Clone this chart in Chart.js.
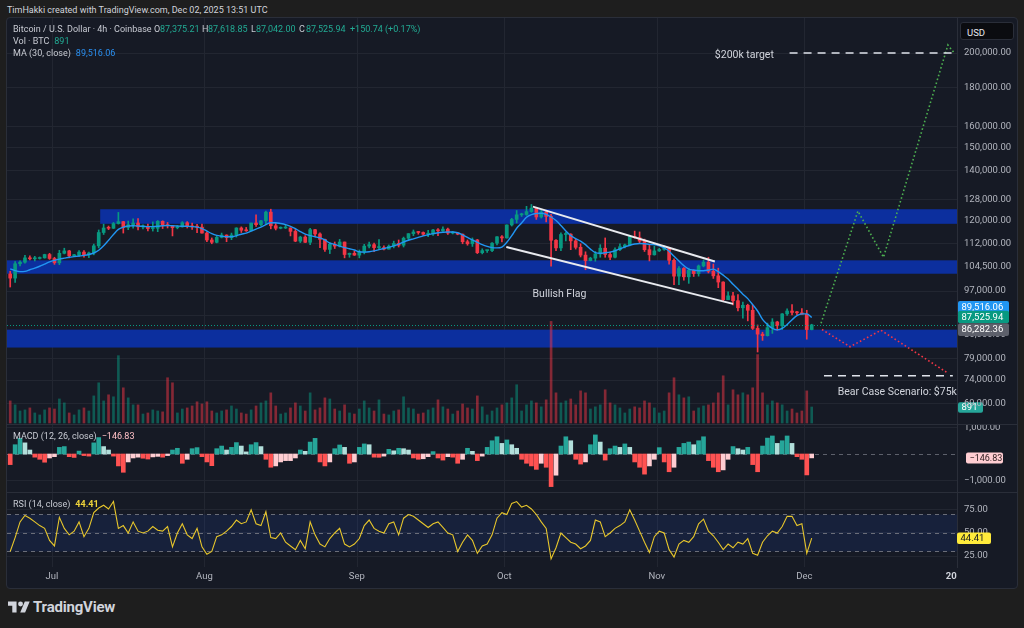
<!DOCTYPE html>
<html><head><meta charset="utf-8">
<script src="https://cdn.jsdelivr.net/npm/chart.js@4.4.1/dist/chart.umd.min.js"></script>
<style>
*{box-sizing:border-box}
html,body{margin:0;padding:0;width:1024px;height:628px;overflow:hidden;background:#1e1e1e;font-family:Roboto,"Noto Sans",sans-serif;}
#panel{position:absolute;left:6px;top:17px;width:1012px;height:572px;background:#161a25;border:1px solid #2a2e39;border-radius:4px;}
canvas{position:absolute;left:7px;}
#cPrice{top:18px}#cMacd{top:425px}#cRsi{top:493px}
.sep{position:absolute;left:7px;width:1010px;height:1px;background:#2a2e39}
.t{position:absolute;white-space:nowrap;line-height:1;color:#c8cbd3;font-size:9px}
.t span{display:inline-block}
.g{color:#22ab94}.b{color:#2a8ff0}
.m{margin-left:5px}
#usd{position:absolute;left:960px;top:22px;width:54px;height:18px;background:#0b0c10;border:1px solid #2a2e39;border-radius:3px;color:#e6e8ee;font-size:9.5px;padding:4px 0 0 6px}
#logoTxt{position:absolute;left:33px;top:598px;font-size:15px;font-weight:700;color:#d1d4dc;letter-spacing:-0.2px}
</style></head>
<body>
<div id="panel"></div>
<canvas id="cPrice" width="1010" height="406"></canvas>
<div class="sep" style="top:424px"></div>
<canvas id="cMacd" width="1010" height="67"></canvas>
<div class="sep" style="top:492px"></div>
<canvas id="cRsi" width="1010" height="95"></canvas>

<div class="t" style="left:7px;top:6px;color:#d1d4dc">TimHakki created with TradingView.com, Dec 02, 2025 13:51 UTC</div>
<div class="t" style="left:13px;top:25px"><span style="width:141px">Bitcoin / U.S. Dollar · 4h · Coinbase</span><span style="width:6px">O</span><span class="g" style="width:42px">87,375.21</span><span style="width:6px">H</span><span class="g" style="width:43px">87,618.85</span><span style="width:5px">L</span><span class="g" style="width:43px">87,042.00</span><span style="width:7px">C</span><span class="g" style="width:44px">87,525.94</span><span class="g">+150.74 (+0.17%)</span></div>
<div class="t" style="left:13px;top:37px">Vol · BTC<span class="g m">891</span></div>
<div class="t" style="left:13px;top:49px">MA (30, close)<span class="b m">89,516.06</span></div>
<div class="t" style="left:13px;top:432px">MACD (12, 26, close)<span class="m" style="color:#ffc1c7">−146.83</span></div>
<div class="t" style="left:13px;top:500px">RSI (14, close)<span class="m" style="color:#f0d43a;font-weight:700">44.41</span></div>
<div id="usd">USD</div>
<svg style="position:absolute;left:8px;top:601px" width="22" height="12" viewBox="0 0 36 18"><path fill="#d1d4dc" d="M14 18H7V7H0V0h14v18zM28 18h-8L27.5 0h8L28 18z"/><circle cx="20.5" cy="4" r="4" fill="#d1d4dc"/></svg>
<div id="logoTxt">TradingView</div>

<script>
// ================= DATA =================
// Daily candles, first candle = Jun 22 2025 (day -9 relative to Jul 1 2025 00:00 UTC)
const FIRST_DAY = -9;
const opens = [102200,100900,105400,105900,107300,107000,107100,107300,108400,107100,
105700,108800,109600,108000,108200,109200,108300,108900,111300,115900,
117500,117400,119100,119800,117700,118700,119300,117900,117900,117300,
117400,119900,118700,118300,117600,117900,119400,118000,117900,117800,
115700,113300,112500,114200,115000,114100,115000,117500,116700,116500,
119300,118700,120100,123300,118300,117400,117500,117500,116300,112900,
114300,112500,116900,115400,113500,110100,111800,111200,112600,108400,
108800,108200,109200,111200,111700,110700,110700,110200,111200,112100,
111500,113900,115500,116100,115900,115300,115400,116800,116500,117100,
115700,115700,115300,112700,112000,113300,109000,109700,109700,112200,
114400,114000,118600,120600,122300,122400,123500,124800,121500,123300,
121700,113200,110600,115200,115300,113000,110800,108200,106400,107200,
108600,110500,108400,107500,110000,111000,111600,114500,114100,112900,
110000,108300,109600,110100,110600,106500,101500,103900,101300,103300,
102300,104700,105900,103000,101600,99700,94500,95600,94200,92200,
92900,91500,86600,85100,84700,86800,88300,87300,90500,91300,
90900,90800,90400,86282];
const highs = [103000,106100,106300,108100,108000,107800,107600,108500,108800,107500,
109800,110500,109800,108500,109700,109700,109200,111900,116800,118900,
118200,119500,123200,119900,120000,120800,120900,118600,118900,119700,
120200,120100,119500,118400,118300,119800,119800,119300,118800,118900,
116100,114000,114700,115700,115100,115700,117600,117900,117700,119300,
122300,120300,123700,124400,119200,117900,118600,117600,117000,114600,
114800,117400,117000,115800,113600,112400,112600,113500,112600,108900,
109500,109900,111800,112600,112200,113400,111300,111600,112900,113300,
114300,115500,116800,116300,116100,116700,117000,117300,117900,117500,
116300,115900,115400,113300,114000,113500,110300,109800,112400,114500,
114800,118600,121000,123900,122900,125500,126200,125000,124200,123800,
122500,113400,115800,116000,115500,113600,112000,109300,107500,109400,
111700,114000,109200,110600,112000,111900,114600,116400,116100,113600,
111600,111200,110500,111300,110800,107000,104500,104200,104000,103400,
105000,106600,107500,105300,104000,99800,96800,96600,96000,93800,
93200,93000,87500,85600,88000,89200,88500,90600,91900,93100,
91200,92000,91500,87700];
const lows = [98200,99600,104700,105600,106600,106300,106900,107200,106800,105200,
105100,108600,107300,107800,107800,107500,107400,108300,110600,115200,
116900,117300,118900,115700,116900,117400,116800,117200,116500,116400,
116200,117300,117500,114700,117200,117800,117500,117000,115800,115700,
112700,112000,112300,114000,112700,113400,114300,115900,116300,116500,
118100,118200,118900,117200,116800,117200,117300,114700,112700,112400,
112400,111700,114600,110700,109400,108700,110400,110900,107300,107500,
108100,107300,108600,110600,109300,110000,109900,110200,110600,110900,
110900,113400,114800,115300,114800,114400,114900,114800,116300,115200,
115400,115100,112000,111500,111100,108700,108600,109100,109300,111600,
112600,113900,118200,119300,121700,122100,123200,120600,121100,119700,
104600,109700,109700,113000,110000,110200,107600,103500,106300,106200,
107500,107500,106700,107300,109700,110600,111300,113900,112200,109400,
106300,108200,109400,109800,105300,98900,98900,100300,99300,101400,
101500,104400,102500,100800,98000,94000,94500,93000,91300,89300,
88600,86300,80600,83500,84600,85300,86100,86300,90100,90200,
90300,90400,83800,86200];
const closes = [100900,105400,105900,107300,107000,107100,107300,108400,107100,105700,
108800,109600,108000,108200,109200,108300,108900,111300,115900,117500,
117400,119100,119800,117700,118700,119300,117900,117900,117300,117400,
119900,118700,118300,117600,117900,119400,118000,117900,117800,115700,
113300,112500,114200,115000,114100,115000,117500,116700,116500,119300,
118700,120100,123300,118300,117400,117500,117500,116300,112900,114300,
112500,116900,115400,113500,110100,111800,111200,112600,108400,108800,
108200,109200,111200,111700,110700,110700,110200,111200,112100,111500,
113900,115500,116100,115900,115300,115400,116800,116500,117100,115700,
115700,115300,112700,112000,113300,109000,109700,109700,112200,114400,
114000,118600,120600,122300,122400,123500,124800,121500,123300,121700,
113200,110600,115200,115300,113000,110800,108200,106400,107200,108600,
110500,108400,107500,110000,111000,111600,114500,114100,112900,110000,
108300,109600,110100,110600,106500,101500,103900,101300,103300,102300,
104700,105900,103000,101600,99700,94500,95600,94200,92200,92900,
91500,86600,85100,84700,86800,88300,87300,90500,91300,90900,
90800,90400,86282,87526];
const ma30 = [103800,103200,102900,103000,103500,104000,104600,105300,106000,106500,
106900,107200,107500,107700,107900,108100,108400,108900,109800,111300,
113200,115200,117000,117800,118200,118300,118200,118100,118000,118000,
118100,118300,118400,118300,118200,118100,118100,118000,117800,117300,
116400,115500,114900,114600,114400,114400,114800,115300,115700,116400,
117100,117800,118700,119400,119400,119100,118700,118100,117300,116200,
115300,114800,114400,114000,113300,112200,111800,111200,110700,110300,
109900,109300,109200,109300,109600,110000,110400,110800,111300,111900,
112600,113200,113700,114200,114700,115100,115500,115800,116000,116100,
116100,115800,115100,114200,113300,112500,111700,111100,110700,110600,
110900,112500,114800,117400,119300,121400,122400,122800,122900,122500,
121500,120200,118400,116400,114800,113800,112900,111700,110200,109000,
108800,109000,109200,109600,110300,110900,111500,111900,112100,112000,
111800,111700,111300,110600,109500,107800,106300,104800,103700,103400,
103200,103200,103400,103700,102900,101800,100600,99000,97600,96100,
94800,93100,91300,89000,87600,86600,86200,86600,87600,88900,
90000,90500,90500,89516];
const volumes = [1230,1010,670,730,840,560,450,730,840,780,
1340,1120,560,450,730,840,670,1510,2240,1230,
1570,1460,3750,1960,1400,1010,1010,500,560,730,
670,620,2520,2240,560,780,840,950,1180,1060,
1180,670,560,670,730,950,780,560,500,730,
950,1120,1230,1680,950,500,560,840,1120,950,
670,1680,730,840,1400,1340,780,670,1010,560,
500,780,1230,840,670,1290,500,450,670,730,
1460,840,780,500,560,730,840,1290,900,780,
500,670,1060,840,780,1510,900,450,670,840,
1010,1120,1400,2130,670,1010,1230,1120,900,1290,
5660,1680,1120,1230,1340,1010,1790,1680,780,900,
1010,1850,1120,1010,840,560,780,900,840,1230,
1120,840,560,670,1680,2520,1570,1400,1460,670,
840,950,1010,1120,1680,2630,1010,1850,1570,1680,
1570,1960,3810,1680,1010,1230,1120,1010,670,780,
560,670,1790,891];
const macdHist = [-400,350,590,420,150,-120,-200,-310,-150,-100,
250,280,-100,-130,110,-60,-80,420,620,280,
150,-80,-450,-690,-300,-150,-120,-160,-190,-110,
-90,-120,-60,150,215,-350,-200,200,240,-100,
-300,-440,200,300,150,250,430,300,80,350,
430,280,-200,-500,-450,-300,-250,-250,-150,150,
100,450,590,-300,-450,-300,200,340,250,-350,
-300,250,380,350,-120,-125,-80,175,120,215,
200,150,-150,-200,-180,-100,90,-150,-230,-100,
-120,-350,-200,215,100,-250,-80,250,500,650,
400,530,350,215,-200,-350,-450,-580,-350,-500,
-1230,-800,300,650,500,-200,-380,-300,350,720,
450,-230,200,300,250,380,250,-300,-500,-760,
-450,-200,240,-300,-670,-500,250,400,450,350,
500,650,-250,-500,-670,-600,-200,280,200,150,
250,-400,-670,300,600,680,400,500,680,400,
-100,-200,-790,-146.83];
const rsi14 = [30,45,62,69,66,62,58,55,42,36,
67,55,48,52,62,46,55,72,77,80,
76,84,55,58,50,62,52,50,52,57,
53,52,57,35,50,60,48,44,55,35,
27,30,46,48,52,57,64,60,62,75,
60,58,73,45,44,50,40,36,32,42,
33,62,48,38,35,44,50,55,38,35,
38,44,58,64,55,52,50,60,62,48,
66,70,68,64,60,56,60,62,56,50,
48,30,40,48,42,28,36,38,48,66,
72,70,82,84,78,80,76,70,62,55,
22,34,50,45,40,38,33,36,42,64,
62,46,50,55,58,62,75,64,52,40,
29,46,52,50,32,24,38,42,40,46,
60,65,52,47,40,32,38,34,40,38,
44,28,26,40,47,52,50,57,68,68,
58,60,28,44.41];

// axis ticks / labels
const priceTicks = [200000,180000,160000,150000,140000,128000,120000,112000,104500,97000,90000,85000,79000,74000,69000];
const macdTicks = [1000,-1000];
const rsiTicks = [75,50,25];
const monthDays = [0,31,62,92,123,153,184];           // days since Jul 1 2025
const monthLabels = ['Jul','Aug','Sep','Oct','Nov','Dec','2026'];

// annotations (day since Jul 1, price)
const zones = [[119000,124400,9.8],[102250,106500,null],[81700,86270,null]];
const flagUpper = [[97.8,125400],[134.8,106100]];
const flagLower = [[92.4,110900],[138.5,93300]];
const bullPath = [[156.4,87960],[163.9,123700],[169.1,107500],[182.2,204900],[183.5,200000]];
const bearPath = [[156.6,86300],[162.3,81900],[168.6,86100],[182.2,75600]];
const targetLines = [[200000,150,184.1],[75000,157,183.2]];
const notes = [['$200k target',134.8,198300,'left'],['Bear Case Scenario: $75k',171.9,71200,'center'],['Bullish Flag',103.2,96130,'center']];
const lastPrice = 87525.94, maLast = 89516.06, prevClose = 86282.36, lastVol = 891, lastMacd = -146.83, lastRsi = 44.41;

// ================= STYLE / SETUP =================
const GRID = '#222631', UP = '#089981', DOWN = '#f23645';
const FONT = 'Roboto, "Noto Sans", sans-serif';
const X_MIN = -9.152, X_MAX = 184.05;
const P_MIN = 64760, P_MAX = 222450;
const V_MIN = -56, V_MAX = 22560;
const M_MIN = -1434, M_MAX = 1094;
const R_MIN = 13.24, R_MAX = 93.24;

const fmt2 = v => (v < 0 ? '−' : '') + Math.abs(v).toLocaleString('en-US',{minimumFractionDigits:2, maximumFractionDigits:2});
const candleX = opens.map((_, i) => FIRST_DAY + i + 0.5);
const isUp = closes.map((c, i) => c >= opens[i]);
const candleColor = isUp.map(u => u ? UP : DOWN);
const volColor = isUp.map(u => u ? 'rgba(8,153,129,0.5)' : 'rgba(242,54,69,0.5)');
const macdColor = macdHist.map((v, i) => {
  const p = i > 0 ? macdHist[i-1] : 0;
  if (v >= 0) return v >= p ? '#26a69a' : '#b2dfdb';
  return v < p ? '#ff5252' : '#ffcdd2';
});

function yAxis(type, min, max, ticks) {
  return {
    type, position:'right', min, max, bounds:'data',
    afterBuildTicks: s => { s.ticks = ticks.map(v => ({value:v})); },
    afterFit: s => { s.width = 60; s.paddingTop = 0; s.paddingBottom = 0; },
    ticks: { color:'#b2b5be', font:{family:FONT, size:9.5}, padding:7, autoSkip:false, callback: v => fmt2(v) },
    grid: { color:GRID, drawTicks:false, lineWidth:1 },
    border: { display:true, color:'#2a2e39' }
  };
}
function baseOptions(y, extra, padBottom) {
  return {
    responsive:false, animation:false, events:[],
    layout:{ padding:{left:0,right:0,top:0,bottom:padBottom||0}, autoPadding:false },
    plugins:{ legend:{display:false}, tooltip:{enabled:false} },
    scales: Object.assign({ x:{type:'linear', min:X_MIN, max:X_MAX, display:false, offset:false}, y }, extra || {})
  };
}
const vGrid = { id:'vgrid', beforeDatasetsDraw(chart) {
  const {ctx, chartArea:a, scales:{x}} = chart;
  ctx.save(); ctx.strokeStyle = GRID; ctx.lineWidth = 1;
  monthDays.forEach(d => { const px = Math.round(x.getPixelForValue(d)) + 0.5;
    if (px > a.left && px < a.right) { ctx.beginPath(); ctx.moveTo(px, a.top); ctx.lineTo(px, a.bottom); ctx.stroke(); } });
  ctx.restore();
}};
function tag(ctx, x, yc, w, h, bg, fg, text, size) {
  ctx.fillStyle = bg; ctx.beginPath();
  if (ctx.roundRect) ctx.roundRect(x, yc - h/2, w, h, 2); else ctx.rect(x, yc - h/2, w, h);
  ctx.fill();
  ctx.fillStyle = fg; ctx.font = (size || 9.5) + 'px ' + FONT; ctx.textAlign = 'left'; ctx.textBaseline = 'middle';
  ctx.fillText(text, x + 3.5, yc + 0.5);
}

// ================= PRICE PANE =================
const pricePlugin = {
  id:'priceDeco',
  beforeDraw(chart) {
    const {ctx, chartArea:a, scales:{yv}} = chart;
    ctx.save(); tag(ctx, a.right + 1, yv.getPixelForValue(lastVol) + 0.5, 25, 10.5, '#26a69a', '#ffffff', String(lastVol)); ctx.restore();
  },
  beforeDatasetsDraw(chart) {
    const {ctx, chartArea:a, scales:{x, y}} = chart;
    ctx.save();
    ctx.fillStyle = '#0c2f9e';
    zones.forEach(([lo, hi, from]) => {
      const x0 = from === null ? a.left : x.getPixelForValue(from);
      const y0 = y.getPixelForValue(hi), y1 = y.getPixelForValue(lo);
      ctx.fillRect(x0, y0, a.right - x0, y1 - y0);
    });
    ctx.restore();
  },
  afterDatasetsDraw(chart) {
    const {ctx, chartArea:a, scales:{x, y}} = chart;
    const P = ([d, p]) => [x.getPixelForValue(d), y.getPixelForValue(p)];
    ctx.save();
    ctx.beginPath(); ctx.rect(a.left, a.top, a.right - a.left, a.bottom - a.top); ctx.clip();
    ctx.strokeStyle = UP; ctx.lineWidth = 1; ctx.setLineDash([1,2]);
    const lp = Math.round(y.getPixelForValue(lastPrice)) + 0.5;
    ctx.beginPath(); ctx.moveTo(a.left, lp); ctx.lineTo(a.right, lp); ctx.stroke();
    ctx.setLineDash([]); ctx.strokeStyle = '#e8eaef'; ctx.lineWidth = 2;
    [flagUpper, flagLower].forEach(l => { const [p0, p1] = l.map(P);
      ctx.beginPath(); ctx.moveTo(p0[0], p0[1]); ctx.lineTo(p1[0], p1[1]); ctx.stroke(); });
    ctx.lineWidth = 1.6; ctx.setLineDash([1.6, 2.4]);
    [[bullPath, '#4caf50'], [bearPath, '#f23645']].forEach(([path, col]) => {
      ctx.strokeStyle = col; ctx.beginPath();
      path.map(P).forEach((p, i) => i ? ctx.lineTo(p[0], p[1]) : ctx.moveTo(p[0], p[1]));
      ctx.stroke();
    });
    ctx.strokeStyle = '#e0e3eb'; ctx.lineWidth = 1.5; ctx.setLineDash([8, 6]);
    targetLines.forEach(([p, d0, d1]) => { const yy = y.getPixelForValue(p);
      ctx.beginPath(); ctx.moveTo(x.getPixelForValue(d0), yy); ctx.lineTo(x.getPixelForValue(d1), yy); ctx.stroke(); });
    ctx.setLineDash([]);
    ctx.fillStyle = '#d1d4dc'; ctx.font = '10.5px ' + FONT; ctx.textBaseline = 'middle';
    notes.forEach(([t, d, p, al]) => { ctx.textAlign = al; ctx.fillText(t, x.getPixelForValue(d), y.getPixelForValue(p)); });
    ctx.restore();
  },
  afterDraw(chart) {
    const {ctx, chartArea:a, scales:{y}} = chart;
    ctx.save();
    const y3 = y.getPixelForValue(prevClose);
    const y2 = Math.min(y.getPixelForValue(lastPrice), y3 - 12.6);
    const y1 = Math.min(y.getPixelForValue(maLast), y2 - 9.8);
    const L = a.right + 1;
    tag(ctx, L, y1, 51, 12.6, '#2196f3', '#ffffff', fmt2(maLast));
    tag(ctx, L, y2, 51, 12.6, '#089981', '#ffffff', fmt2(lastPrice));
    tag(ctx, L, y3, 51, 12.6, '#5d606b', '#ffffff', fmt2(prevClose));
    ctx.restore();
  }
};
new Chart(document.getElementById('cPrice'), {
  type:'bar',
  data:{ datasets:[
    { type:'line', data: candleX.map((x, i) => ({x, y: ma30[i]})), borderColor:'#2196f3', borderWidth:1.4, pointRadius:0, cubicInterpolationMode:'monotone', order:0, yAxisID:'y' },
    { data: candleX.map((x, i) => ({x, y:[opens[i], closes[i]]})), backgroundColor:candleColor, barThickness:3, grouped:false, minBarLength:1, order:1, yAxisID:'y' },
    { data: candleX.map((x, i) => ({x, y:[lows[i], highs[i]]})), backgroundColor:candleColor, barThickness:1, grouped:false, order:2, yAxisID:'y' },
    { data: candleX.map((x, i) => ({x, y: volumes[i]})), backgroundColor:volColor, barThickness:2, grouped:false, order:3, yAxisID:'yv' }
  ]},
  options: baseOptions(yAxis('logarithmic', P_MIN, P_MAX, priceTicks), { yv:{type:'linear', display:false, min:V_MIN, max:V_MAX} }),
  plugins:[vGrid, pricePlugin]
});

// ================= MACD PANE =================
const macdPlugin = {
  id:'macdDeco',
  beforeDatasetsDraw(chart) {
    const {ctx, chartArea:a, scales:{y}} = chart;
    ctx.save(); ctx.strokeStyle = '#5d606b'; ctx.lineWidth = 1; ctx.setLineDash([4,4]);
    const y0 = Math.round(y.getPixelForValue(0)) + 0.5;
    ctx.beginPath(); ctx.moveTo(a.left, y0); ctx.lineTo(a.right, y0); ctx.stroke(); ctx.restore();
  },
  afterDraw(chart) {
    const {ctx, chartArea:a, scales:{y}} = chart;
    ctx.save(); tag(ctx, a.right + 9, y.getPixelForValue(lastMacd), 37, 11, '#ffcdd2', '#2a1a1c', fmt2(lastMacd), 9); ctx.restore();
  }
};
new Chart(document.getElementById('cMacd'), {
  type:'bar',
  data:{ datasets:[ { data: candleX.map((x, i) => ({x, y: macdHist[i]})), backgroundColor:macdColor, barThickness:4, grouped:false } ]},
  options: baseOptions(yAxis('linear', M_MIN, M_MAX, macdTicks)),
  plugins:[vGrid, macdPlugin]
});

// ================= RSI PANE =================
const rsiPlugin = {
  id:'rsiDeco',
  beforeDatasetsDraw(chart) {
    const {ctx, chartArea:a, scales:{y}} = chart;
    ctx.save();
    ctx.fillStyle = 'rgba(41,98,255,0.1)';
    const t = y.getPixelForValue(70), b = y.getPixelForValue(30);
    ctx.fillRect(a.left, t, a.right - a.left, b - t);
    ctx.strokeStyle = '#6a6d78'; ctx.lineWidth = 1; ctx.setLineDash([4,4]);
    [70,50,30].forEach(v => { const yy = Math.round(y.getPixelForValue(v)) + 0.5;
      ctx.beginPath(); ctx.moveTo(a.left, yy); ctx.lineTo(a.right, yy); ctx.stroke(); });
    ctx.restore();
  },
  afterDraw(chart) {
    const {ctx, chartArea:a, scales:{x, y}} = chart;
    ctx.save();
    tag(ctx, a.right, y.getPixelForValue(lastRsi), 34, 11.5, '#ffeb3b', '#131722', fmt2(lastRsi));
    ctx.beginPath(); ctx.rect(a.left, a.bottom, a.right - a.left, 30); ctx.clip();
    ctx.textAlign = 'center'; ctx.textBaseline = 'middle';
    monthDays.forEach((d, i) => {
      const isYear = /^\d{4}$/.test(monthLabels[i]);
      ctx.font = (isYear ? '700 ' : '') + '9.5px ' + FONT;
      ctx.fillStyle = isYear ? '#d1d4dc' : '#b2b5be';
      ctx.fillText(monthLabels[i], x.getPixelForValue(d), a.bottom + 10);
    });
    ctx.restore();
  }
};
new Chart(document.getElementById('cRsi'), {
  type:'line',
  data:{ datasets:[ { data: candleX.map((x, i) => ({x, y: rsi14[i]})), borderColor:'#e8c72c', borderWidth:1.1, pointRadius:0, tension:0 } ]},
  options: baseOptions(yAxis('linear', R_MIN, R_MAX, rsiTicks), null, 21),
  plugins:[vGrid, rsiPlugin]
});
</script>
</body></html>
